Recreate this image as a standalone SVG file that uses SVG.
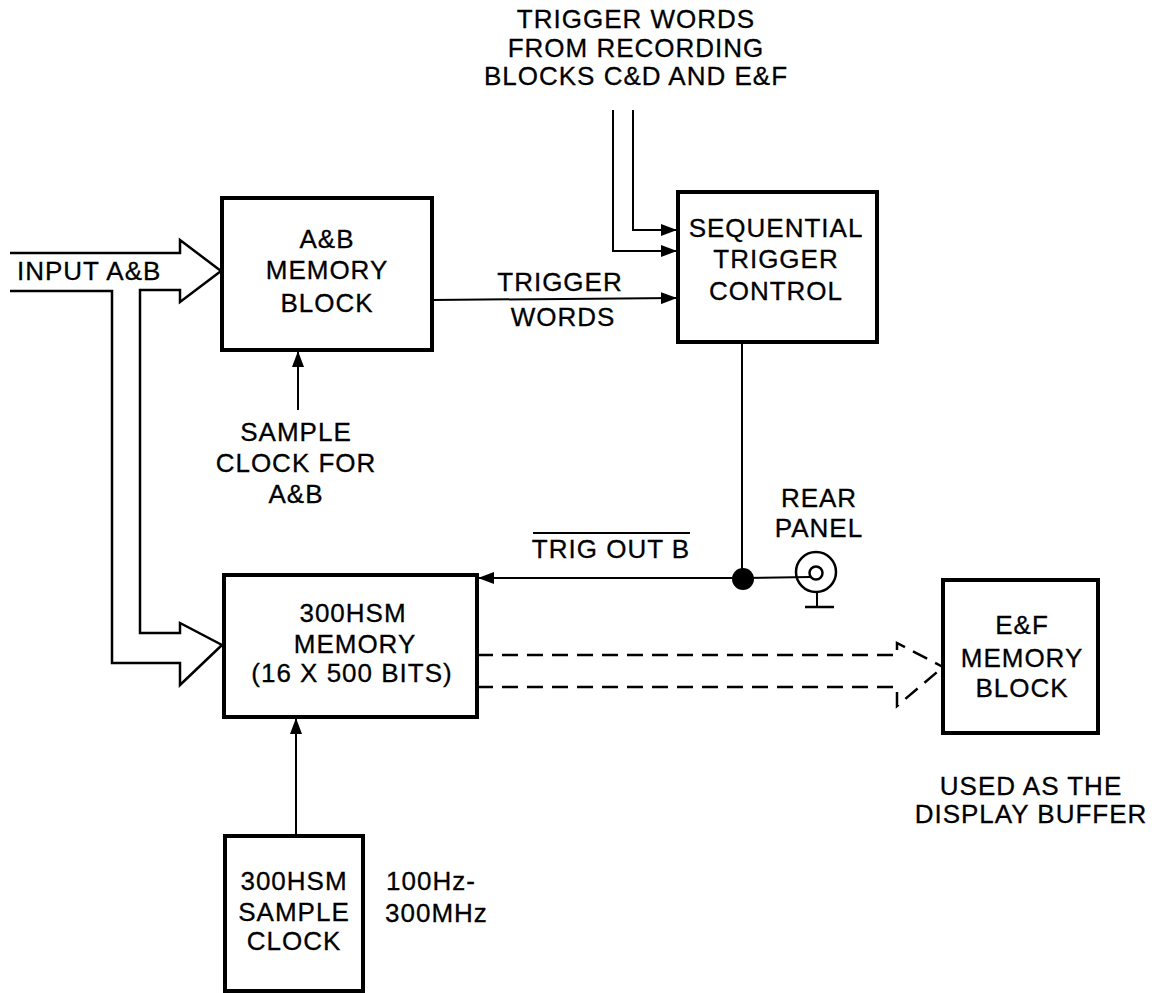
<svg xmlns="http://www.w3.org/2000/svg" width="1159" height="993" viewBox="0 0 1159 993">
<style>
text{font-family:"Liberation Sans",Arial,Helvetica,sans-serif;font-size:26px;fill:#000;stroke:#000;stroke-width:0.3;letter-spacing:1px}
.c{text-anchor:middle}
.box{fill:#fff;stroke:#000;stroke-width:4}
.ln{fill:none;stroke:#000;stroke-width:2}
.hol{fill:none;stroke:#000;stroke-width:2.5;stroke-linejoin:miter}
.dash{fill:none;stroke:#000;stroke-width:2.5;stroke-dasharray:16 9}
</style>
<defs>
<marker id="ah" markerUnits="userSpaceOnUse" markerWidth="16" markerHeight="12" refX="15" refY="6" orient="auto">
<path d="M0,0 L16,6 L0,12 z" fill="#000"/>
</marker>
</defs>
<rect width="1159" height="993" fill="#fff"/>

<g id="connectors">
<path class="hol" d="M10,253 L180,253 L180,240 L221,271 L180,302 L180,290 L140,290 L140,633 L180,633 L180,623 L222,645 L180,685 L180,663 L112,663 L112,291 L10,291"/>
<path class="ln" d="M613,110 L613,251 L676,251" marker-end="url(#ah)"/>
<path class="ln" d="M633,110 L633,230 L676,230" marker-end="url(#ah)"/>
<path class="ln" d="M432,300 L676,298" marker-end="url(#ah)"/>
<path class="ln" d="M298,410 L298,352" marker-end="url(#ah)"/>
<path class="ln" d="M742,342 L742,578 L479,578" marker-end="url(#ah)"/>
<path class="ln" d="M742,578 L810,577"/>
<circle cx="743" cy="579" r="11" fill="#000"/>
<path class="ln" d="M296,836 L296,719" marker-end="url(#ah)"/>
<path class="dash" d="M477,655 L897,655 L897,643 L943,667"/>
<path class="dash" d="M477,687 L897,687 L897,706 L943,667"/>
<line x1="533" y1="533" x2="690" y2="533" stroke="#000" stroke-width="2"/>
</g>

<g id="connector-rear-panel">
<circle cx="816" cy="572" r="20" fill="none" stroke="#000" stroke-width="2.5"/>
<circle cx="816" cy="573" r="6.5" fill="none" stroke="#000" stroke-width="2.5"/>
<line x1="817" y1="593" x2="817" y2="607" stroke="#000" stroke-width="2"/>
<line x1="805" y1="607" x2="834" y2="607" stroke="#000" stroke-width="2.5"/>
</g>

<g id="ab-memory">
<rect class="box" x="222" y="198" width="210" height="152"/>
<text class="c" x="327" y="248">A&amp;B</text>
<text class="c" x="327" y="279">MEMORY</text>
<text class="c" x="327" y="312">BLOCK</text>
</g>

<g id="seq-trigger">
<rect class="box" x="678" y="192" width="199" height="150"/>
<text class="c" x="776" y="237">SEQUENTIAL</text>
<text class="c" x="776" y="268">TRIGGER</text>
<text class="c" x="776" y="300">CONTROL</text>
</g>

<g id="hsm-memory">
<rect class="box" x="224" y="575" width="253" height="142"/>
<text class="c" x="353" y="622">300HSM</text>
<text class="c" x="355" y="653">MEMORY</text>
<text class="c" x="352" y="682">(16 X 500 BITS)</text>
</g>

<g id="ef-memory">
<rect class="box" x="943" y="580" width="155" height="153"/>
<text class="c" x="1022" y="634">E&amp;F</text>
<text class="c" x="1022" y="667">MEMORY</text>
<text class="c" x="1022" y="697">BLOCK</text>
</g>

<g id="hsm-clock">
<rect class="box" x="225" y="836" width="138" height="155"/>
<text class="c" x="294" y="890">300HSM</text>
<text class="c" x="294" y="921">SAMPLE</text>
<text class="c" x="294" y="950">CLOCK</text>
</g>

<g id="labels">
<text class="c" x="636" y="28">TRIGGER WORDS</text>
<text class="c" x="636" y="57">FROM RECORDING</text>
<text class="c" x="636" y="85">BLOCKS C&amp;D AND E&amp;F</text>
<text x="17" y="280">INPUT A&amp;B</text>
<text class="c" x="560" y="291">TRIGGER</text>
<text class="c" x="563" y="326">WORDS</text>
<text class="c" x="296" y="441">SAMPLE</text>
<text class="c" x="296" y="472">CLOCK FOR</text>
<text class="c" x="296" y="503">A&amp;B</text>
<text class="c" x="819" y="507">REAR</text>
<text class="c" x="819" y="537">PANEL</text>
<text class="c" x="611" y="558">TRIG OUT B</text>
<text x="386" y="890">100Hz-</text>
<text x="385" y="922">300MHz</text>
<text class="c" x="1031" y="795">USED AS THE</text>
<text class="c" x="1031" y="823">DISPLAY BUFFER</text>
</g>
</svg>
